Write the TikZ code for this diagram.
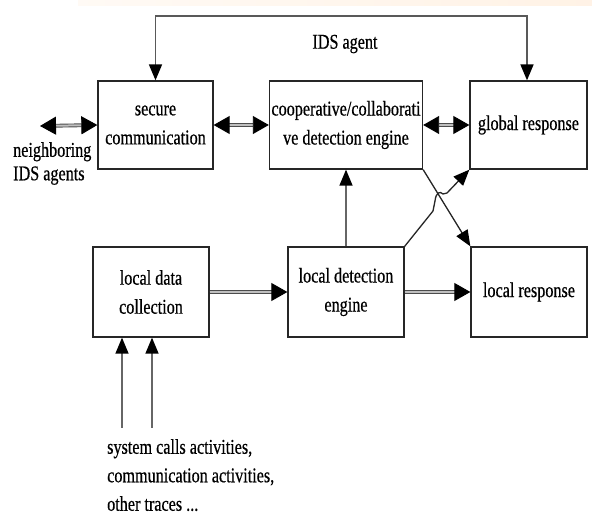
\documentclass[tikz,border=0pt]{standalone}
\usepackage{fontspec}
\setmainfont{Liberation Serif}[FakeStretch=0.77,FakeBold=0.5]
\usetikzlibrary{arrows.meta}
\tikzset{
  blk/.style={draw=black!85, line width=1.3pt, fill=white, align=center, inner sep=2pt,
    font=\fontsize{21}{29}\selectfont},
  lbl/.style={align=left, inner sep=0pt, font=\fontsize{21}{28.5}\selectfont},
  thick arr/.style={draw=black!70, double=gray!50, double distance=2pt, line width=0.9pt,
    -{Triangle[length=16pt,width=18pt,color=black]}},
  thick dbl/.style={draw=black!70, double=gray!50, double distance=2pt, line width=0.9pt,
    {Triangle[length=16pt,width=18pt,color=black]}-{Triangle[length=16pt,width=18pt,color=black]}},
  thin arr/.style={draw=black!60, line width=1.3pt,
    -{Triangle[length=16pt,width=13pt,color=black]}},
  diag arr/.style={draw=black!85, line width=1.3pt,
    -{Triangle[length=16pt,width=13pt,color=black]}},
}
\begin{document}
\begin{tikzpicture}[x=1pt,y=-1pt]
\useasboundingbox (0,0) rectangle (592,518);
\fill[white] (0,0) rectangle (592,518);
% faint watermark strip at top
\fill[left color=orange!4, right color=orange!10] (78,0) rectangle (592,6);

% upper row
\node[blk, minimum width=115pt, minimum height=88pt] (sc) at (155.5,125) {secure\\communication};
\node[blk, minimum width=148pt, minimum height=88pt] (coop) at (346,125) {cooperative/collaborati\\ve detection engine};
\node[blk, minimum width=117pt, minimum height=88pt] (glob) at (528.5,125) {global response};

% lower row
\node[blk, minimum width=116pt, minimum height=90pt] (ldc) at (151,292) {local data\\collection};
\node[blk, minimum width=116pt, minimum height=90pt] (lde) at (346,292) {local detection\\engine};
\node[blk, minimum width=116pt, minimum height=90pt] (lr) at (529,292) {local response};

% labels
\node[lbl, anchor=center] (ida) at (345,44) {IDS agent};
\node[lbl, anchor=north west, font=\fontsize{21}{23.5}\selectfont] (nbt) at (13,142) {neighboring\\IDS agents};
\node[lbl, anchor=north west] (src) at (107,439) {system calls activities,\\communication activities,\\other traces ...};

% top loop
\coordinate (tl) at (155.5,16);
\coordinate (tr) at (527,16);
\draw[draw=black!65, line width=1.7pt, -{Triangle[length=16pt,width=13pt,color=black]}]
  (tr) -- (tl) -- (sc.north);
\draw[draw=black!65, line width=1.7pt, -{Triangle[length=16pt,width=13pt,color=black]}]
  (tl) -- (tr) -- (tr |- glob.north);

% horizontal arrows
\coordinate (nb) at (40,126);
\draw[thick dbl] (nb) -- (sc.west);
\draw[thick dbl] (sc.east) -- (coop.west);
\draw[thick dbl] (coop.east) -- (glob.west);
\draw[thick arr] (ldc.east) -- (lde.west);
\draw[thick arr] (lde.east) -- (lr.west);

% vertical
\draw[thin arr] (lde.north) -- (coop.south);
\coordinate (in1) at (122,428);
\coordinate (in2) at (152,428);
\draw[thin arr] (in1) -- (in1 |- ldc.south);
\draw[thin arr] (in2) -- (in2 |- ldc.south);

% crossing diagonals
\draw[diag arr] (coop.south east) -- (lr.north west);
\coordinate (h1) at (433,211);
\coordinate (h2) at (435,201);
\coordinate (h3) at (443,194);
\coordinate (h4) at (447,193);
\draw[diag arr] (lde.north east) -- (h1) -- (h2) .. controls (436,192) and (440,191) .. (h3) -- (h4) -- (glob.south west);
\end{tikzpicture}
\end{document}
